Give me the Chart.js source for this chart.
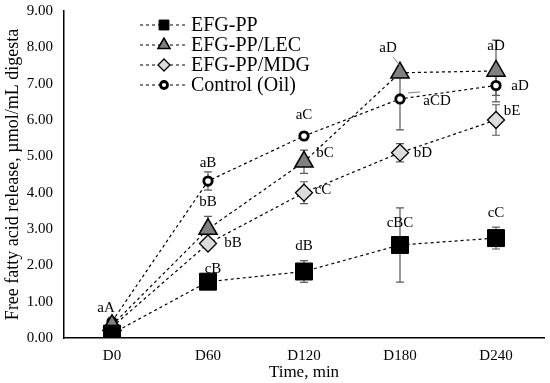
<!DOCTYPE html>
<html>
<head>
<meta charset="utf-8">
<script src="https://cdn.jsdelivr.net/npm/chart.js@4"></script>
<style>
  html, body { margin: 0; padding: 0; background: #fff; }
  #wrap { width: 550px; height: 383px; }
</style>
</head>
<body>
<div id="wrap"><canvas id="ffaChart" width="550" height="383"></canvas></div>
<script>
// Datos
const timePoints = ["D0", "D60", "D120", "D180", "D240"];
const seriesNames = ["EFG-PP", "EFG-PP/LEC", "EFG-PP/MDG", "Control (Oil)"];

const ppValues = [0.12, 1.55, 1.83, 2.56, 2.75];
const lecValues = [0.35, 3.0, 4.85, 7.3, 7.35];
const mdgValues = [0.3, 2.6, 4.0, 5.1, 6.0];
const oilValues = [0.45, 4.32, 5.56, 6.58, 6.95];

const ppErrors = [0.05, 0.1, 0.3, 1.02, 0.3];
const lecErrors = [0.05, 0.35, 0.32, 0.0, 0.85];
const mdgErrors = [0.05, 0.1, 0.3, 0.25, 0.42];
const oilErrors = [0.05, 0.25, 0.1, 0.85, 0.27];

const ppLetters = ["", "cB", "dB", "cBC", "cC"];
const lecLetters = ["", "bB", "bC", "aD", "aD"];
const mdgLetters = ["", "bB", "cC", "bD", "bE"];
const oilLetters = ["aA", "aB", "aC", "aCD", "aD"];

const yTicks = [0, 1, 2, 3, 4, 5, 6, 7, 8, 9];

// Posición de las letras respecto al punto (px)
const letterOffsets = [
  [null, [5, -13], [0, -25], [0, -22], [0, -25]],
  [null, [0, -27], [21, -9], [-12, -25], [0, -25]],
  [null, [25, 0], [19, -3], [23, 0], [16, -9]],
  [[-6, -14], [0, -18], [0, -21], [37, 2], [24, 1]],
];
// Líneas guía de algunas letras: [serie, índice, dx1, dy1, dx2, dy2]
const leaderLines = [
  [1, 3, -7, -16, 0, -7],
  [3, 3, 8, -6, 20, -7],
];
// Tamaño de los marcadores en la leyenda
const legendRadius = [7, 7, 6, 3.5];

const serif = "'Liberation Serif', 'Times New Roman', serif";

const errorsList = [ppErrors, lecErrors, mdgErrors, oilErrors];
const lettersList = [ppLetters, lecLetters, mdgLetters, oilLetters];

// Barras de error
const errorBarsPlugin = {
  id: "errorBars",
  beforeDatasetsDraw(chart) {
    const ctx = chart.ctx;
    const y = chart.scales.y;
    ctx.save();
    ctx.strokeStyle = "#595959";
    ctx.lineWidth = 1.2;
    chart.data.datasets.forEach((ds, i) => {
      const meta = chart.getDatasetMeta(i);
      meta.data.forEach((pt, j) => {
        const err = errorsList[i][j];
        if (!err) return;
        const top = y.getPixelForValue(ds.data[j] + err);
        const bot = y.getPixelForValue(ds.data[j] - err);
        ctx.beginPath();
        ctx.moveTo(pt.x, top);
        ctx.lineTo(pt.x, bot);
        ctx.moveTo(pt.x - 4, top);
        ctx.lineTo(pt.x + 4, top);
        ctx.moveTo(pt.x - 4, bot);
        ctx.lineTo(pt.x + 4, bot);
        ctx.stroke();
      });
    });
    ctx.restore();
  },
};

// Letras de significancia y leyenda propia
const lettersPlugin = {
  id: "letters",
  afterDatasetsDraw(chart) {
    const ctx = chart.ctx;
    ctx.save();
    ctx.font = "15px " + serif;
    ctx.fillStyle = "#000";
    ctx.textAlign = "center";
    ctx.textBaseline = "middle";
    lettersList.forEach((letters, i) => {
      const meta = chart.getDatasetMeta(i);
      letters.forEach((txt, j) => {
        if (!txt) return;
        const off = letterOffsets[i][j];
        const pt = meta.data[j];
        ctx.fillText(txt, pt.x + off[0], pt.y + off[1]);
      });
    });
    ctx.strokeStyle = "#808080";
    ctx.lineWidth = 1;
    leaderLines.forEach(([i, j, x1, y1, x2, y2]) => {
      const pt = chart.getDatasetMeta(i).data[j];
      ctx.beginPath();
      ctx.moveTo(pt.x + x1, pt.y + y1);
      ctx.lineTo(pt.x + x2, pt.y + y2);
      ctx.stroke();
    });

    // Leyenda
    const lx = 140;
    const ly = 25;
    ctx.font = "20px " + serif;
    ctx.textAlign = "left";
    chart.data.datasets.forEach((ds, i) => {
      const yy = ly + i * 20;
      ctx.strokeStyle = "#000";
      ctx.lineWidth = 1.2;
      ctx.setLineDash([3, 3]);
      ctx.beginPath();
      ctx.moveTo(lx, yy);
      ctx.lineTo(lx + 48, yy);
      ctx.stroke();
      ctx.setLineDash([]);
      ctx.fillStyle = ds.pointBackgroundColor;
      ctx.strokeStyle = "#000";
      ctx.lineWidth = ds.pointBorderWidth;
      Chart.helpers.drawPoint(ctx, {
        pointStyle: ds.pointStyle,
        radius: legendRadius[i],
        rotation: 0,
        borderWidth: ds.pointBorderWidth,
      }, lx + 24, yy);
      ctx.fillStyle = "#000";
      ctx.fillText(ds.label, lx + 51, yy + 1);
    });
    ctx.restore();
  },
};

const baseSeries = {
  borderColor: "#000",
  borderWidth: 1.2,
  borderDash: [3, 3],
  pointBorderColor: "#000",
  fill: false,
  tension: 0,
};

const ctx1 = document.getElementById("ffaChart").getContext("2d");
const ffaChart = new Chart(ctx1, {
  type: "line",
  data: {
    labels: timePoints,
    datasets: [
      {
        ...baseSeries,
        label: seriesNames[0],
        data: ppValues,
        pointStyle: "rect",
        pointRadius: 12,
        pointBackgroundColor: "#000",
        pointBorderWidth: 1,
      },
      {
        ...baseSeries,
        label: seriesNames[1],
        data: lecValues,
        pointStyle: "triangle",
        pointRadius: 10.5,
        pointBackgroundColor: "#808080",
        pointBorderWidth: 1.5,
      },
      {
        ...baseSeries,
        label: seriesNames[2],
        data: mdgValues,
        pointStyle: "rectRot",
        pointRadius: 8.5,
        pointBackgroundColor: "#dcdcdc",
        pointBorderWidth: 1.3,
      },
      {
        ...baseSeries,
        label: seriesNames[3],
        data: oilValues,
        pointStyle: "circle",
        pointRadius: 4.2,
        pointBackgroundColor: "#fff",
        pointBorderWidth: 2.8,
      },
    ],
  },
  options: {
    responsive: false,
    animation: false,
    layout: { autoPadding: false, padding: { top: 11, right: 6, bottom: 0, left: 0 } },
    plugins: {
      legend: { display: false },
      tooltip: { enabled: false },
    },
    scales: {
      x: {
        offset: true,
        afterFit: (axis) => {
          axis.height = 45;
          axis.paddingLeft = 0;
          axis.paddingRight = 0;
        },
        grid: { display: false, drawTicks: false },
        border: { color: "#000", width: 1.5 },
        ticks: { color: "#000", font: { family: serif, size: 15 }, padding: 9 },
        title: {
          display: true,
          text: "Time, min",
          color: "#000",
          font: { family: serif, size: 17 },
          padding: { top: 0, bottom: 0 },
        },
      },
      y: {
        min: 0,
        max: 9,
        afterFit: (axis) => {
          axis.width = 64;
          axis.paddingTop = 0;
          axis.paddingBottom = 0;
        },
        afterBuildTicks: (axis) => {
          axis.ticks = yTicks.map((v) => ({ value: v }));
        },
        grid: { display: false, drawTicks: false },
        border: { color: "#000", width: 1.5 },
        ticks: {
          color: "#000",
          font: { family: serif, size: 15 },
          padding: 11,
          callback: (v) => Number(v).toFixed(2),
        },
        title: {
          display: true,
          text: "Free fatty acid release, µmol/mL digesta",
          color: "#000",
          font: { family: serif, size: 18 },
          padding: { top: 2, bottom: 0 },
        },
      },
    },
  },
  plugins: [errorBarsPlugin, lettersPlugin],
});
</script>
</body>
</html>
